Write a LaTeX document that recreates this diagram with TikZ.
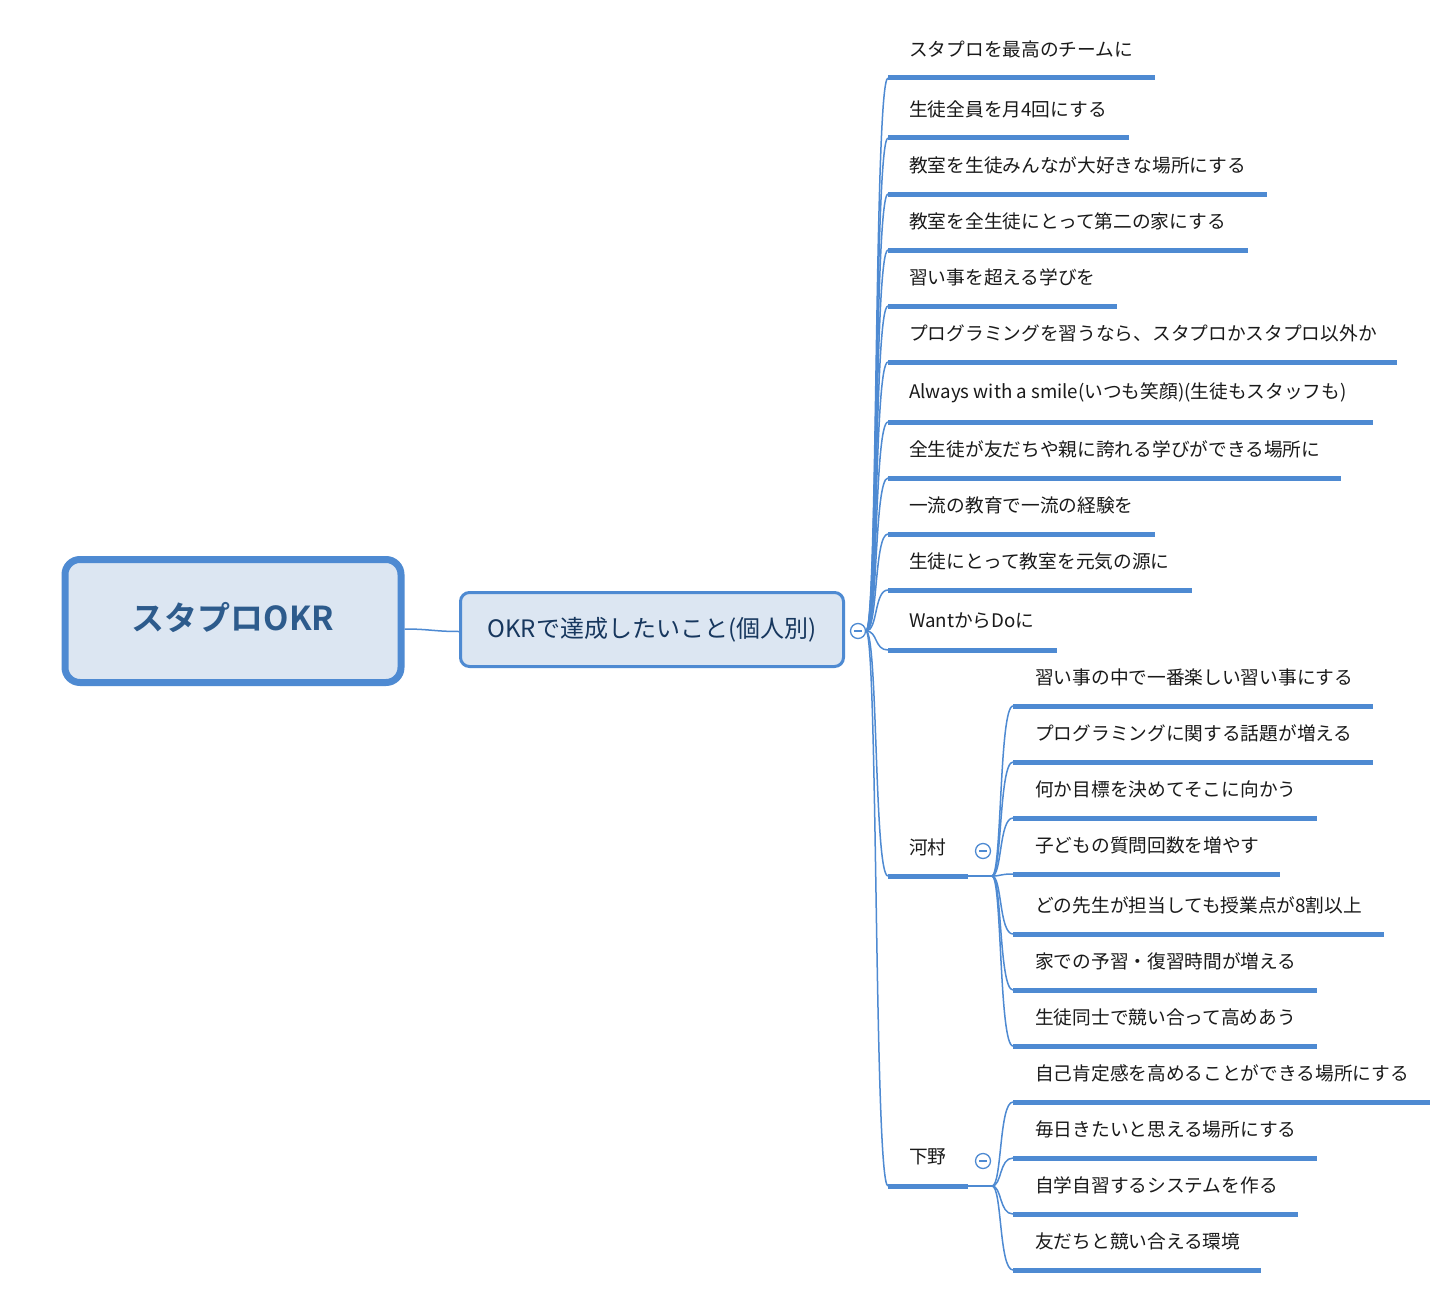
\documentclass[tikz,border=0pt]{standalone}
\usepackage{fontspec}
\setmainfont{Noto Sans CJK JP}[BoldFont={Noto Sans CJK JP Bold}]
\usetikzlibrary{calc}
\definecolor{lb}{HTML}{4E8AD2}
\definecolor{fillb}{HTML}{DCE6F2}
\definecolor{roottxt}{HTML}{2D5B8C}
\definecolor{midtxt}{HTML}{17375E}
\definecolor{leaftxt}{HTML}{1A1A1A}
\tikzset{
  rootbox/.style={draw=lb,line width=7pt,fill=fillb,rounded corners=15pt,minimum width=336pt,minimum height=123pt,inner sep=0pt,text=roottxt,font=\fontsize{33pt}{36pt}\selectfont\bfseries},
  midbox/.style={draw=lb,line width=3pt,fill=fillb,rounded corners=9pt,minimum width=383pt,minimum height=74pt,inner sep=0pt,text=midtxt,font=\fontsize{24pt}{28pt}\selectfont},
  leaf/.style={anchor=west,inner sep=0pt,text=leaftxt,font=\fontsize{18.7pt}{22pt}\selectfont},
  uline/.style={draw=lb,line width=5pt},
  branch/.style={draw=lb,line width=1.5pt},
  collapse/.style={circle,draw=lb,line width=1.3pt,fill=white,minimum size=15pt,inner sep=0pt},
}
\begin{document}
\begin{tikzpicture}[x=1pt,y=-1pt]
\useasboundingbox (0,0) rectangle (1440,1295);
\fill[white] (0,0) rectangle (1440,1295);
% root and central
\node[rootbox] (root) at (233,621) {\raisebox{10pt}{スタプロOKR}};
\node[midbox] (mid) at (652,629.5) {\raisebox{2pt}{OKRで達成したいこと(個人別)}};
\draw[branch] ($(root.east)+(0,8)$) .. controls ($(root.east)+(25,8)$) and ($(mid.west)+(-25,2)$) .. ($(mid.west)+(0,2)$);
\coordinate (hub) at (866,631);
% first level leaves
\foreach \yy/\xe/\t [count=\i] in {
  78/1155/{スタプロを最高のチームに},
  138/1129/{生徒全員を月4回にする},
  194/1267/{教室を生徒みんなが大好きな場所にする},
  250/1248/{教室を全生徒にとって第二の家にする},
  306/1117/{習い事を超える学びを},
  362/1397/{プログラミングを習うなら、スタプロかスタプロ以外か},
  422/1373/{Always with a smile(いつも笑顔)(生徒もスタッフも)},
  478/1341/{全生徒が友だちや親に誇れる学びができる場所に},
  534/1155/{一流の教育で一流の経験を},
  590/1192/{生徒にとって教室を元気の源に},
  650/1057/{WantからDoに},
  876/968/{河村},
  1186/968/{下野}} {
  \coordinate (us\i) at (888,\yy);
  \coordinate (ue\i) at (\xe,\yy);
  \draw[branch] (hub) .. controls ($(hub)+(12,0)$) and ($(us\i)+(-14,0)$) .. (us\i);
  \draw[uline] (us\i) -- (ue\i);
  \node[leaf] (t\i) at (909,\yy-29) {\t};
}
\node[collapse] (c0) at (858,631) {};
\draw[lb,line width=1.2pt] ($(c0)+(-4,0)$) -- ($(c0)+(4,0)$);
% 河村 subtree
\coordinate (hubA) at (992,876);
\draw[branch] (ue12) -- (hubA);
\foreach \yy/\xe/\t [count=\i] in {
  706/1373/{習い事の中で一番楽しい習い事にする},
  762/1373/{プログラミングに関する話題が増える},
  818/1317/{何か目標を決めてそこに向かう},
  874/1280/{子どもの質問回数を増やす},
  934/1384/{どの先生が担当しても授業点が8割以上},
  990/1317/{家での予習・復習時間が増える},
  1046/1317/{生徒同士で競い合って高めあう}} {
  \coordinate (as\i) at (1013,\yy);
  \coordinate (ae\i) at (\xe,\yy);
  \draw[branch] (hubA) .. controls ($(hubA)+(10,0)$) and ($(as\i)+(-14,0)$) .. (as\i);
  \draw[uline] (as\i) -- (ae\i);
  \node[leaf] (a\i) at (1035,\yy-29) {\t};
}
\node[collapse] (cA) at (983,851) {};
\draw[lb,line width=1.2pt] ($(cA)+(-4,0)$) -- ($(cA)+(4,0)$);
% 下野 subtree
\coordinate (hubB) at (992,1186);
\draw[branch] (ue13) -- (hubB);
\foreach \yy/\xe/\t [count=\i] in {
  1102/1430/{自己肯定感を高めることができる場所にする},
  1158/1317/{毎日きたいと思える場所にする},
  1214/1298/{自学自習するシステムを作る},
  1270/1261/{友だちと競い合える環境}} {
  \coordinate (bs\i) at (1013,\yy);
  \coordinate (be\i) at (\xe,\yy);
  \draw[branch] (hubB) .. controls ($(hubB)+(10,0)$) and ($(bs\i)+(-14,0)$) .. (bs\i);
  \draw[uline] (bs\i) -- (be\i);
  \node[leaf] (b\i) at (1035,\yy-29) {\t};
}
\node[collapse] (cB) at (983,1161) {};
\draw[lb,line width=1.2pt] ($(cB)+(-4,0)$) -- ($(cB)+(4,0)$);
\end{tikzpicture}
\end{document}
